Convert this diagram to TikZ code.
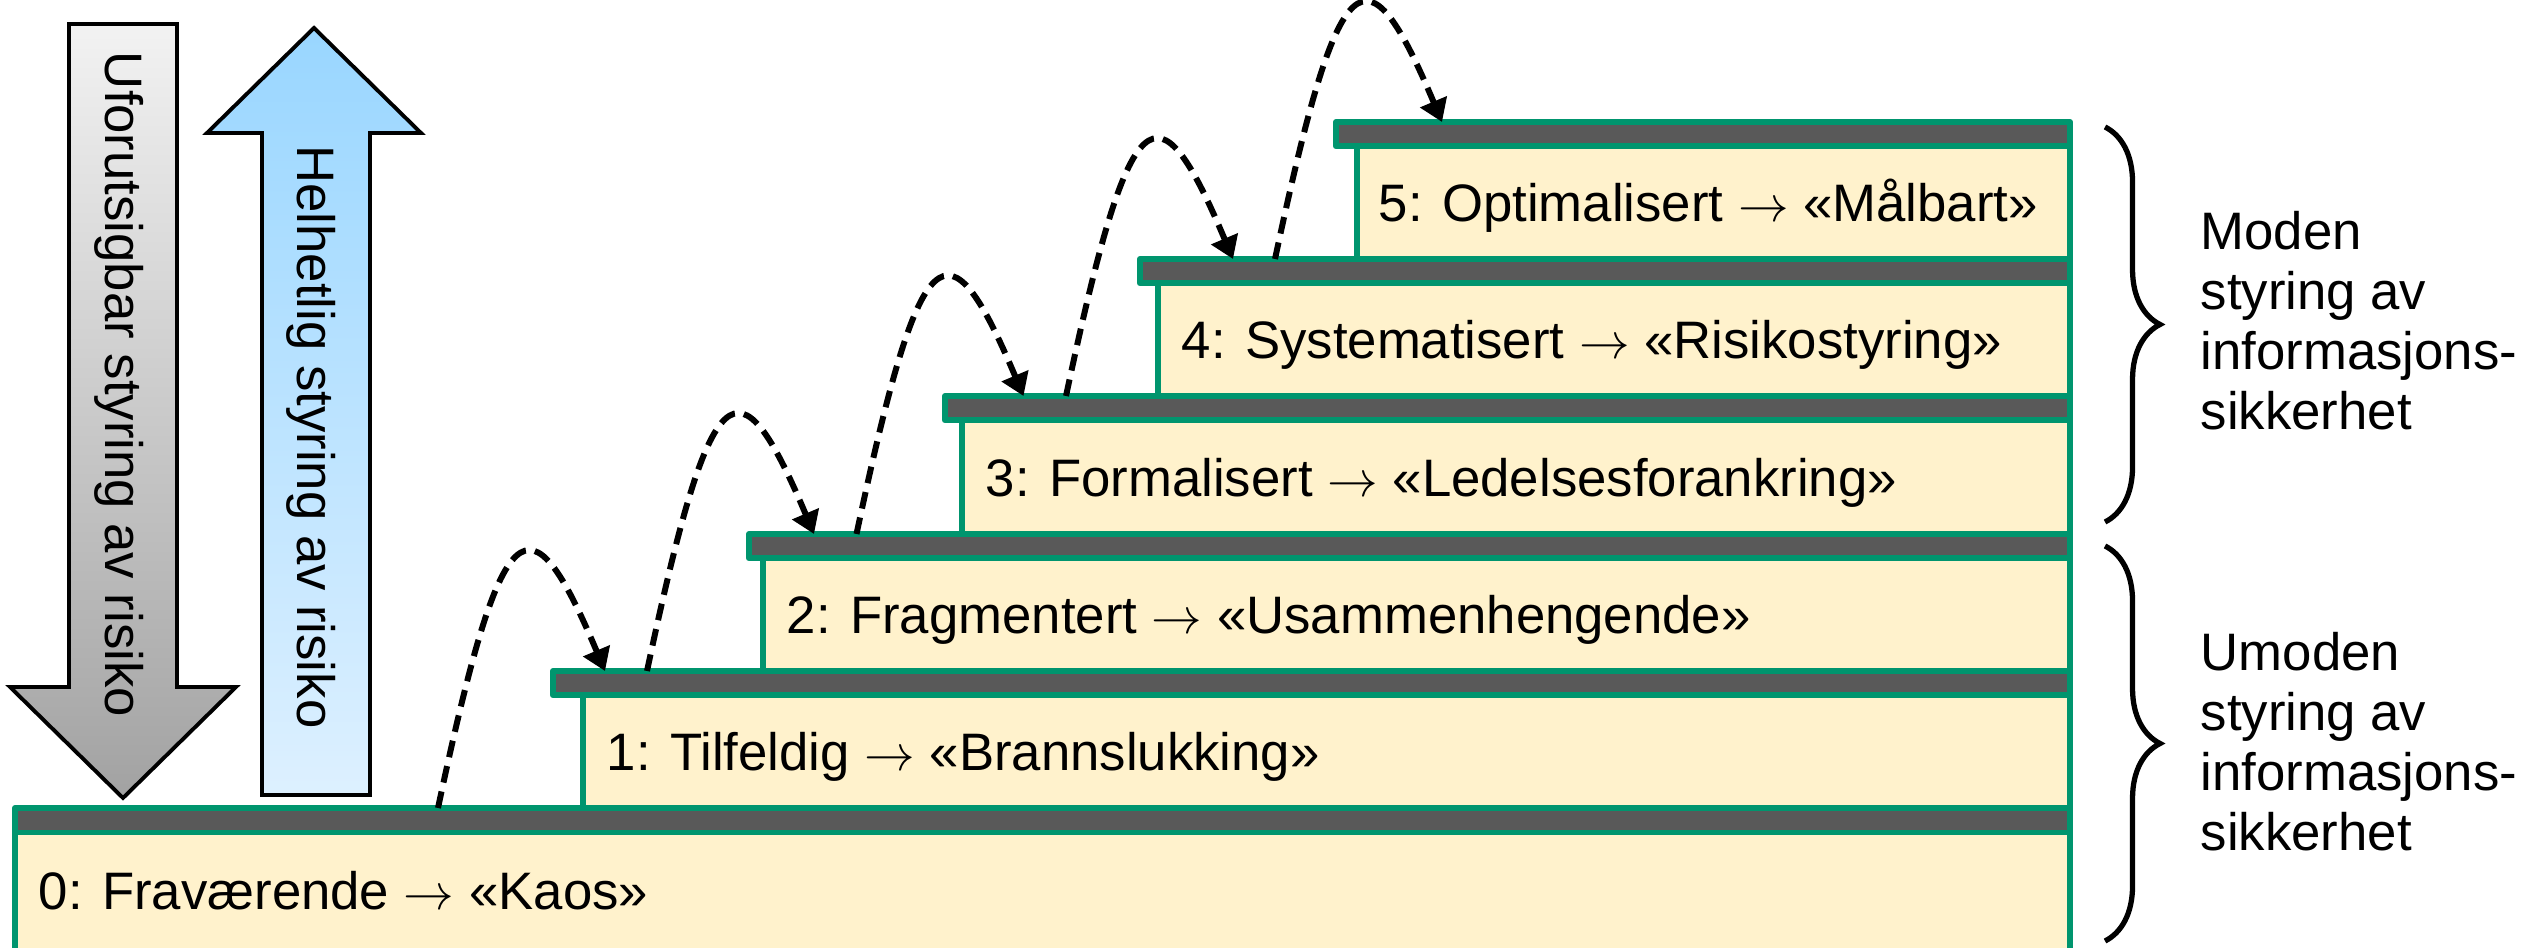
\documentclass[tikz,border=0pt]{standalone}
\usepackage{fontspec}
\setmainfont{Liberation Sans}
\usepackage{tikz}
\usetikzlibrary{arrows.meta,decorations.pathreplacing}
\definecolor{stepfill}{HTML}{FFF2CC}
\definecolor{stepline}{HTML}{00956E}
\definecolor{slabfill}{HTML}{595959}
\definecolor{graytop}{HTML}{F2F2F2}
\definecolor{graybot}{HTML}{A2A2A2}
\definecolor{bluetop}{HTML}{99D6FF}
\definecolor{bluebot}{HTML}{DDF0FF}
\tikzset{
  body/.style={draw=stepline, fill=stepfill, line width=1.7pt, line join=round},
  slab/.style={draw=stepline, fill=slabfill, line width=1.7pt, line join=round},
  jump/.style={draw=black, line width=1.7pt, dash pattern=on 4.8pt off 2.6pt,
    -{Triangle[length=0.22cm,width=0.28cm]}},
  lab/.style={font=\fontsize{15}{17}\selectfont, anchor=west, inner sep=0pt,
    text height=10.7pt, text depth=0pt},
  side/.style={font=\fontsize{15}{17}\selectfont, align=left, anchor=north west, inner sep=0pt},
  vlab/.style={font=\fontsize{15}{17}\selectfont, rotate=-90, inner sep=0pt},
  bigarrow/.style={draw=black, line width=1.1pt, line join=miter},
  curly/.style={decorate, decoration={brace, amplitude=0.55cm}, line width=1.5pt}
}

\begin{document}
\begin{tikzpicture}
  \useasboundingbox (0,0) rectangle (25.27,9.48);
  \def\R{20.70}
  % big arrows on the left
  \shadedraw[bigarrow, top color=graytop, bottom color=graybot]
    (0.69,9.24) -- (1.77,9.24) -- (1.77,2.61) -- (2.36,2.61) -- (1.23,1.50)
    -- (0.10,2.61) -- (0.69,2.61) -- cycle;
  \shadedraw[bigarrow, top color=bluetop, bottom color=bluebot]
    (3.14,9.20) -- (4.21,8.15) -- (3.70,8.15) -- (3.70,1.53) -- (2.62,1.53)
    -- (2.62,8.15) -- (2.07,8.15) -- cycle;
  \node[vlab] (vdown) at (1.19,5.635) {Uforutsigbar styring av risiko};
  \node[vlab] (vup) at (3.11,5.11) {Helhetlig styring av risiko};

  % steps
  \draw[body] (0.15,-0.30) rectangle (\R,1.155);
  \draw[slab] (0.15,1.155) rectangle (\R,1.40);
  \node[lab] (t0) at (0.38,0.57) {0: Fraværende $\rightarrow$ «Kaos»};

  \draw[body] (5.83,1.40) rectangle (\R,2.525);
  \draw[slab] (5.53,2.525) rectangle (\R,2.77);
  \node[lab] (t1) at (6.06,1.9625) {1: Tilfeldig $\rightarrow$ «Brannslukking»};

  \draw[body] (7.63,2.77) rectangle (\R,3.895);
  \draw[slab] (7.49,3.895) rectangle (\R,4.14);
  \node[lab] (t2) at (7.86,3.3325) {2: Fragmentert $\rightarrow$ «Usammenhengende»};

  \draw[body] (9.615,4.14) rectangle (\R,5.275);
  \draw[slab] (9.45,5.275) rectangle (\R,5.52);
  \node[lab] (t3) at (9.85,4.7075) {3: Formalisert $\rightarrow$ «Ledelsesforankring»};

  \draw[body] (11.58,5.52) rectangle (\R,6.645);
  \draw[slab] (11.40,6.645) rectangle (\R,6.89);
  \node[lab] (t4) at (11.81,6.0825) {4: Systematisert $\rightarrow$ «Risikostyring»};

  \draw[body] (13.57,6.89) rectangle (\R,8.015);
  \draw[slab] (13.36,8.015) rectangle (\R,8.26);
  \node[lab] (t5) at (13.78,7.4525) {5: Optimalisert $\rightarrow$ «Målbart»};

  % jumps between the steps
  \coordinate (j1a) at (4.38,1.40);   \coordinate (j1b) at (6.05,2.77);
  \coordinate (j2a) at (6.47,2.77);   \coordinate (j2b) at (8.14,4.14);
  \coordinate (j3a) at (8.565,4.14);  \coordinate (j3b) at (10.235,5.52);
  \coordinate (j4a) at (10.66,5.52);  \coordinate (j4b) at (12.33,6.89);
  \coordinate (j5a) at (12.75,6.89);  \coordinate (j5b) at (14.42,8.26);
  \draw[jump] (j1a) .. controls +(0.645,3.03) and +(-0.76,1.80) .. (j1b);
  \draw[jump] (j2a) .. controls +(0.645,3.03) and +(-0.76,1.80) .. (j2b);
  \draw[jump] (j3a) .. controls +(0.645,3.03) and +(-0.76,1.80) .. (j3b);
  \draw[jump] (j4a) .. controls +(0.645,3.03) and +(-0.76,1.80) .. (j4b);
  \draw[jump] (j5a) .. controls +(0.645,3.03) and +(-0.76,1.80) .. (j5b);

  % braces and side labels
  \coordinate (b1a) at (21.05,8.21);  \coordinate (b1b) at (21.05,4.26);
  \coordinate (b2a) at (21.05,4.02);  \coordinate (b2b) at (21.05,0.07);
  \draw[curly] (b1a) -- (b1b);
  \draw[curly] (b2a) -- (b2b);
  \node[side] (mature) at (22.00,7.37) {Moden\\styring av\\informasjons-\\sikkerhet};
  \node[side] (immature) at (22.00,3.16) {Umoden\\styring av\\informasjons-\\sikkerhet};
\end{tikzpicture}
\end{document}
